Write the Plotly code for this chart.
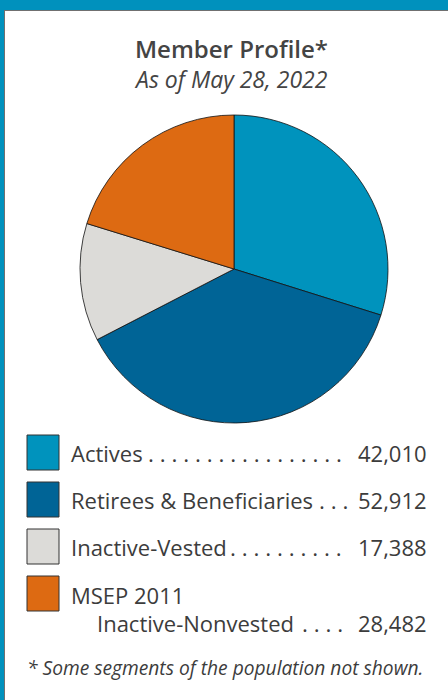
import plotly.graph_objects as go

# ---- data ----
categories = ["Actives", "Retirees & Beneficiaries", "Inactive-Vested", "MSEP 2011 Inactive-Nonvested"]
members = [42010, 52912, 17388, 28482]
slice_colors = ["#0093bd", "#006496", "#dcdbd8", "#dd6a12"]
legend_lines = [("Actives", None), ("Retirees & Beneficiaries", None), ("Inactive-Vested", None),
                ("MSEP 2011", "Inactive-Nonvested")]
leader_dots = [17, 3, 10, 4]

W, H = 448, 700
TXT = "#3c3c3c"
FONT = "Open Sans"


def px(x):
    return x / W


def py(y):
    return 1 - y / H


fig = go.Figure()
cx, cy, r = 234, 269, 154
fig.add_trace(go.Pie(
    labels=categories, values=members, sort=False, direction="clockwise", rotation=0,
    marker=dict(colors=slice_colors, line=dict(color="#111111", width=0.8)),
    textinfo="none", showlegend=False, hole=0,
    domain=dict(x=[px(cx - r), px(cx + r)], y=[py(cy + r), py(cy - r)]),
))

shapes = []
annotations = []
# frame
shapes.append(dict(type="rect", xref="paper", yref="paper", x0=0, x1=1, y0=py(10), y1=1,
                   fillcolor="#0091bd", line=dict(width=0), layer="above"))
shapes.append(dict(type="rect", xref="paper", yref="paper", x0=0, x1=px(4), y0=0, y1=1,
                   fillcolor="#0091bd", line=dict(width=0), layer="above"))
shapes.append(dict(type="line", xref="paper", yref="paper", x0=px(4.5), x1=px(4.5), y0=0, y1=py(10),
                   line=dict(color="#707070", width=1)))
shapes.append(dict(type="line", xref="paper", yref="paper", x0=px(4), x1=1, y0=py(10.5), y1=py(10.5),
                   line=dict(color="#707070", width=1)))

# titles
annotations.append(dict(text="Member Profile*", x=px(231), y=py(48), xref="paper", yref="paper",
                        showarrow=False, xanchor="center", yanchor="middle",
                        font=dict(family=FONT, size=24, color="#444444", weight=600)))
annotations.append(dict(text="<i>As of May 28, 2022</i>", x=px(231), y=py(79), xref="paper", yref="paper",
                        showarrow=False, xanchor="center", yanchor="middle",
                        font=dict(family=FONT, size=23, color="#444444")))

# legend
box_tops = [435, 482, 529, 576]
dot_end = [344, 350, 344, 345]
fs = 22
for i, (cat, val, col) in enumerate(zip(categories, members, slice_colors)):
    t = box_tops[i]
    shapes.append(dict(type="rect", xref="paper", yref="paper", x0=px(27), x1=px(59),
                       y0=py(t + 35), y1=py(t), fillcolor=col, line=dict(color="#333333", width=1)))
    first, second = legend_lines[i]
    if second is None:
        ty = t + 18
        annotations.append(dict(text=first, x=px(69), y=py(ty), xref="paper", yref="paper",
                                showarrow=False, xanchor="left", yanchor="middle",
                                font=dict(family=FONT, size=fs, color=TXT)))
    else:
        annotations.append(dict(text=first, x=px(69), y=py(t + 19), xref="paper", yref="paper",
                                showarrow=False, xanchor="left", yanchor="middle",
                                font=dict(family=FONT, size=fs, color=TXT)))
        ty = t + 47
        annotations.append(dict(text=second, x=px(95), y=py(ty), xref="paper", yref="paper",
                                showarrow=False, xanchor="left", yanchor="middle",
                                font=dict(family=FONT, size=fs, color=TXT)))
    annotations.append(dict(text=". " * (leader_dots[i] - 1) + ".",
                            x=px(dot_end[i]), y=py(ty), xref="paper", yref="paper",
                            showarrow=False, xanchor="right", yanchor="middle",
                            font=dict(family=FONT, size=22.5, color=TXT)))
    annotations.append(dict(text=f"{val:,}", x=px(429), y=py(ty), xref="paper", yref="paper",
                            showarrow=False, xanchor="right", yanchor="middle",
                            font=dict(family=FONT, size=fs, color=TXT)))

annotations.append(dict(text="<i>* Some segments of the population not shown.</i>", x=px(25), y=py(667),
                        xref="paper", yref="paper", showarrow=False, xanchor="left", yanchor="middle",
                        font=dict(family=FONT, size=19.2, color=TXT)))

fig.update_layout(width=W, height=H, autosize=False, margin=dict(l=0, r=0, t=0, b=0),
                  paper_bgcolor="white", plot_bgcolor="white",
                  shapes=shapes, annotations=annotations)
fig.write_html("out.html", config={"displayModeBar": False},
               post_script="document.body.style.margin='0';document.body.style.padding='0';"
                           "document.documentElement.style.overflow='hidden';")
